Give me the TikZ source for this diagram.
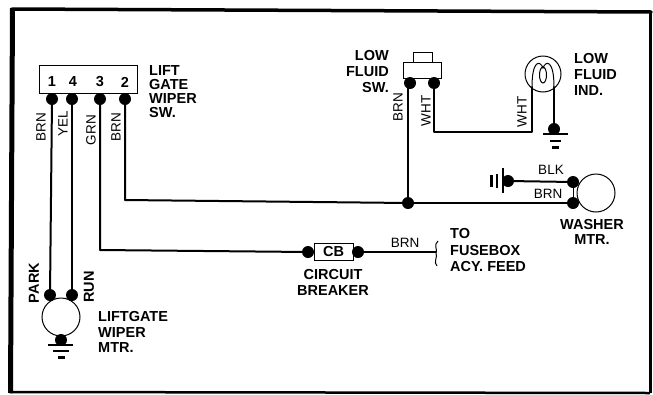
\documentclass[tikz,border=0pt]{standalone}
\usepackage{fontspec}
\setmainfont{Liberation Sans}
\tikzset{
  wire/.style={line width=2pt, line cap=round, line join=round},
  thin wire/.style={line width=1pt},
  term/.style={circle, fill=black, inner sep=0pt, minimum size=12pt},
  part/.style={draw, line width=1pt, fill=white, inner sep=0pt},
  motor/.style={circle, draw, line width=1pt, fill=white, inner sep=0pt, minimum size=38pt},
  lbl/.style={font=\fontsize{14.5}{15}\selectfont\bfseries, inner sep=0pt},
  tag/.style={font=\fontsize{13.5}{14}\selectfont, inner sep=0pt},
  vtag/.style={tag, rotate=90},
  vlbl/.style={lbl, rotate=90},
  gbar/.style={line width=1.8pt},
  gend/.style={line width=3pt},
}
\begin{document}
\begin{tikzpicture}[x=1pt, y=-1pt]
    \useasboundingbox (0,0) rectangle (653,394);
    % Frame
    \draw[line width=3.5pt, line cap=round] (12,9) -- (651,12);
    \draw[line width=5pt] (12.5,8) -- (10.5,393);
    \draw[line width=2.5pt] (10,392) -- (650,393);
    \draw[line width=2.5pt] (650.5,11) -- (650.5,393);

    % Nodes
    \node[part, minimum width=98pt, minimum height=28pt] (sw) at (88,79) {};
    \node[term] (s1) at (52,99) {};
    \node[term] (s4) at (72,99) {};
    \node[term] (s3) at (100,99) {};
    \node[term] (s2) at (125,99) {};
    \node[lbl] at (52,82) {1};
    \node[lbl] at (73,82) {4};
    \node[lbl] at (100,82) {3};
    \node[lbl] at (125,82) {2};

    \node[motor] (wiper) at (61,317) {};
    \node[term] (park) at (50,295) {};
    \node[term] (run) at (72,295) {};
    \node[term] (wipergnd) at (61,340) {};

    \node[part, minimum width=19pt, minimum height=10pt] (button) at (422.5,57) {};
    \node[part, minimum width=38pt, minimum height=16pt] (fluidsw) at (422,70) {};
    \node[term] (f1) at (410,83) {};
    \node[term] (f2) at (434,83) {};
    \node[term] (j) at (408,203) {};

    \node[motor, minimum size=36pt] (lamp) at (543,74) {};
    \node[term] (lampgnd) at (554,129) {};
    \coordinate (lampa) at (532,87);
    \coordinate (lampb) at (554,87);
    \coordinate (bend1) at (434,132);
    \coordinate (bend2) at (532,132);

    \node[motor] (washer) at (596,193) {};
    \node[term] (w1) at (573,182) {};
    \node[term] (w2) at (573,203) {};
    \node[term] (washgnd) at (508,181) {};

    \node[part, minimum width=39pt, minimum height=17pt, lbl] (cb) at (333.5,252) {CB};
    \node[term] (cb1) at (308,252) {};
    \node[term] (cb2) at (358,252) {};
    \coordinate (feed) at (436,252);
    \coordinate (bend3) at (100,250);
    \coordinate (bend4) at (125,200);

    % Edges
    \draw[wire] (s1) -- (park);
    \draw[wire] (s4) -- (run);
    \draw[wire] (s3) -- (bend3) -- (cb1);
    \draw[wire] (s2) -- (bend4) -- (j);
    \draw[wire] (j) -- (w2);
    \draw[wire] (j) -- (408,83);
    \draw[wire] (f2) -- (bend1) -- (bend2) -- (lampa);
    \draw[wire] (lampb) -- (lampgnd);
    \draw[wire] (washgnd) -- (w1);
    \draw[wire] (cb2) -- (feed);
    \draw[thin wire] (w1) -- (w2);

    % Filament
    \draw[thin wire] (lampa) .. controls (532,60) and (540,60) .. (543,68) .. controls (546,60) and (554,60) .. (lampb);
    \draw[thin wire] (543,75) ellipse (3.5 and 8);

    % Grounds
    \draw[gbar] (48,345) -- (73,345);
    \draw[gbar] (53,351) -- (69,351);
    \draw[gend] (58,357) -- (65,357);
    \draw[gbar] (543,134) -- (568,134);
    \draw[gbar] (550,141) -- (561,141);
    \draw[gend] (552,147) -- (559,147);
    \draw[gbar] (503,168) -- (503,193);
    \draw[gbar] (497,174) -- (497,188);
    \draw[gend] (491,175) -- (491,187);

    % Brace
    \draw[thin wire] (438,241) .. controls (433,245) and (438,250) .. (436,253) .. controls (438,257) and (433,262) .. (437,266);

    % Labels
    \node[vtag] at (41,127) {BRN};
    \node[vtag] at (63,124) {YEL};
    \node[vtag] at (91,130) {GRN};
    \node[vtag] at (116,127) {BRN};
    \node[vtag] at (398,107) {BRN};
    \node[vtag] at (426,111) {WHT};
    \node[vtag] at (522,112) {WHT};
    \node[vlbl] at (34,283) {PARK};
    \node[vlbl] at (89,287) {RUN};
    \node[tag] at (551,170) {BLK};
    \node[tag] at (548,194) {BRN};
    \node[tag] at (405,243) {BRN};
    \node[lbl, anchor=west] at (149,71) {LIFT};
    \node[lbl, anchor=west] at (149,85) {GATE};
    \node[lbl, anchor=west] at (149,99) {WIPER};
    \node[lbl, anchor=west] at (149,113) {SW.};
    \node[lbl, anchor=east] at (389,56) {LOW};
    \node[lbl, anchor=east] at (389,72) {FLUID};
    \node[lbl, anchor=east] at (389,88) {SW.};
    \node[lbl, anchor=west] at (574,59) {LOW};
    \node[lbl, anchor=west] at (574,75) {FLUID};
    \node[lbl, anchor=west] at (574,91) {IND.};
    \node[lbl] at (592,225) {WASHER};
    \node[lbl] at (592,240) {MTR.};
    \node[lbl, anchor=west] at (98,317) {LIFTGATE};
    \node[lbl, anchor=west] at (98,333) {WIPER};
    \node[lbl, anchor=west] at (98,348) {MTR.};
    \node[lbl] at (333,275) {CIRCUIT};
    \node[lbl] at (333,291) {BREAKER};
    \node[lbl, anchor=west] at (450,234) {TO};
    \node[lbl, anchor=west] at (450,251) {FUSEBOX};
    \node[lbl, anchor=west] at (450,267) {ACY. FEED};
\end{tikzpicture}
\end{document}
